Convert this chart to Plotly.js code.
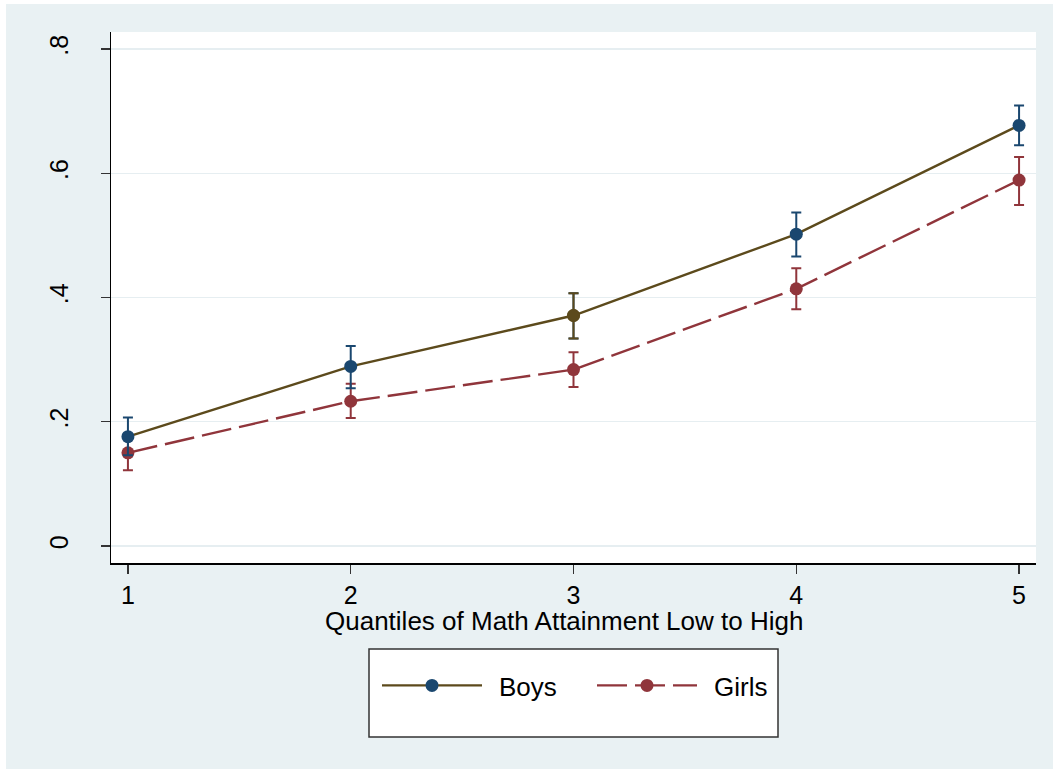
<!DOCTYPE html>
<html>
<head>
<meta charset="utf-8">
<script src="https://cdn.plot.ly/plotly-3.0.1.min.js"></script>
<style>
html,body{margin:0;padding:0;background:#ffffff;}
#chart{position:absolute;left:6px;top:4px;width:1047px;height:765px;}
</style>
</head>
<body>
<div id="chart"></div>
<script>
// Data
const quantiles = [1, 2, 3, 4, 5];
const boysMean  = [0.176, 0.289, 0.371, 0.502, 0.677];
const boysUpper = [0.207, 0.322, 0.407, 0.537, 0.709];
const boysLower = [0.146, 0.254, 0.334, 0.466, 0.645];
const girlsMean  = [0.150, 0.233, 0.284, 0.414, 0.589];
const girlsUpper = [0.178, 0.261, 0.312, 0.447, 0.626];
const girlsLower = [0.122, 0.206, 0.256, 0.381, 0.549];
const yTicks = [0, 0.2, 0.4, 0.6, 0.8];
const yTickText = ['0', '.2', '.4', '.6', '.8'];
const xTicks = [1, 2, 3, 4, 5];
const xTitle = 'Quantiles of Math Attainment Low to High';

const navy = '#1A476F', brown = '#5C4A1C', maroon = '#90353B';
const boysMarkerColors = quantiles.map((q, i) => i === 2 ? brown : navy);

const plus = (m, u) => u.map((v, i) => +(v - m[i]).toFixed(4));
const minus = (m, l) => l.map((v, i) => +(m[i] - v).toFixed(4));

const boysLegend = {
  x: [null], y: [null], name: 'Boys', type: 'scatter', mode: 'lines+markers',
  line: {color: brown, width: 2.4}, marker: {color: navy, size: 13}
};
const girls = {
  x: quantiles, y: girlsMean, name: 'Girls', type: 'scatter', mode: 'lines+markers',
  line: {color: maroon, width: 2.4, dash: '30px,8px'},
  marker: {color: maroon, size: 13},
  error_y: {type: 'data', symmetric: false, array: plus(girlsMean, girlsUpper),
            arrayminus: minus(girlsMean, girlsLower), color: maroon, thickness: 2, width: 5}
};
const boys = {
  x: quantiles, y: boysMean, name: 'Boys', type: 'scatter', mode: 'lines+markers', showlegend: false,
  line: {color: brown, width: 2.4},
  marker: {color: boysMarkerColors, size: 13},
  error_y: {type: 'data', symmetric: false, array: plus(boysMean, boysUpper),
            arrayminus: minus(boysMean, boysLower), color: navy, thickness: 2, width: 5}
};
// third quantile of boys drawn in brown
const bi = 2;
const boysMid = {
  x: [quantiles[bi]], y: [boysMean[bi]], type: 'scatter', mode: 'markers', showlegend: false,
  marker: {color: brown, size: 13},
  error_y: {type: 'data', symmetric: false, array: [+(boysUpper[bi] - boysMean[bi]).toFixed(4)],
            arrayminus: [+(boysMean[bi] - boysLower[bi]).toFixed(4)], color: brown, thickness: 2, width: 5}
};

const fam = 'Arial, "Liberation Sans", sans-serif';
const tickFont = {family: fam, size: 25, color: '#000'};
const bigFont = {family: fam, size: 26, color: '#000'};

const layout = {
  width: 1047, height: 765,
  paper_bgcolor: '#E9F1F3', plot_bgcolor: '#FFFFFF',
  margin: {l: 105, r: 17, t: 28, b: 206, autoexpand: false},
  font: bigFont,
  showlegend: true,
  xaxis: {
    range: [0.924, 5.076], tickvals: xTicks, ticktext: xTicks.map(String),
    showgrid: false, zeroline: false, showline: true, linecolor: '#000', linewidth: 1.5,
    ticks: 'outside', ticklen: 9, tickwidth: 1.5, tickcolor: '#333',
    tickfont: tickFont, automargin: false
  },
  yaxis: {
    range: [-0.0274, 0.8274], tickvals: yTicks, ticktext: yTickText, tickangle: -90,
    showgrid: true, gridcolor: '#E6EEF1', gridwidth: 1.5, zeroline: false,
    showline: true, linecolor: '#000', linewidth: 1.5,
    ticks: 'outside', ticklen: 9, tickwidth: 1.5, tickcolor: '#333',
    tickfont: tickFont, ticklabelstandoff: 23, automargin: false
  },
  annotations: [{
    text: xTitle, xref: 'paper', yref: 'paper', x: (564 - 111) / 925, y: (563 - 621) / 531,
    xanchor: 'center', yanchor: 'middle', showarrow: false, font: bigFont
  }],
  legend: {
    orientation: 'h', x: (377 - 111) / 925, xanchor: 'left', y: -0.1864, yanchor: 'top',
    bgcolor: 'rgba(0,0,0,0)', font: bigFont, itemwidth: 112, traceorder: 'normal',
    entrywidth: 88, entrywidthmode: 'pixels'
  },
  shapes: [{
    type: 'rect', xref: 'paper', yref: 'paper',
    x0: (369 - 111) / 925, x1: (778 - 111) / 925,
    y0: (563 - 737) / 531, y1: (563 - 649) / 531,
    line: {color: '#333', width: 1.5}, fillcolor: '#FFFFFF', layer: 'below'
  }]
};

function fixLegend(gd) {
  gd.querySelectorAll('.legend .legendlines path').forEach(p => p.setAttribute('d', 'M5,0h100'));
  gd.querySelectorAll('.legend .legendpoints path').forEach(p => p.setAttribute('transform', 'translate(55,0)'));
}

Plotly.newPlot('chart', [boysLegend, girls, boys, boysMid], layout, {displayModeBar: false, staticPlot: true})
  .then(fixLegend);
</script>
</body>
</html>
